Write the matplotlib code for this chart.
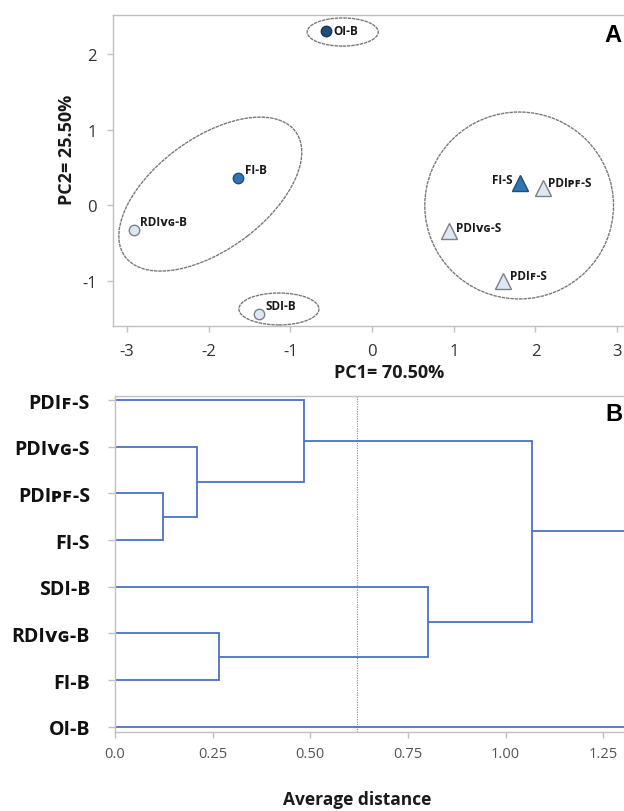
import matplotlib
matplotlib.use("Agg")
import matplotlib.pyplot as plt
from matplotlib.patches import Ellipse

# ---------------- data ----------------
pca_names = ["OI-B", "FI-B", "RDIᴠɢ-B", "SDI-B", "FI-S", "PDIᴘꜰ-S", "PDIᴠɢ-S", "PDIꜰ-S"]
pc1 = [-0.56, -1.64, -2.92, -1.38, 1.81, 2.09, 0.94, 1.60]
pc2 = [2.30, 0.36, -0.32, -1.43, 0.30, 0.23, -0.34, -0.99]
marker_kind = ["o", "o", "o", "o", "^", "^", "^", "^"]
fill_colors = ["#1f4e79", "#2e75b6", "#dce8f5", "#dce8f5", "#2e75b6", "#dce8f5", "#dce8f5", "#dce8f5"]
edge_colors = ["#1a3550", "#1f4e79", "#808080", "#808080", "#1f4e79", "#808080", "#808080", "#808080"]
# label offsets in points (dx, dy) and horizontal alignment
label_dx = [5, 5, 4.5, 4.5, -5, 4, 5, 5]
label_dy = [0, 6, 6, 6, 2, 4, 3, 4]
label_ha = ["left", "left", "left", "left", "right", "left", "left", "left"]

# group ellipses (centre x, centre y, width, height, angle) in data units
ell_cx = [-0.36, -1.98, -1.14, 1.80]
ell_cy = [2.283, 0.15, -1.362, 0.0]
ell_w = [0.87, 2.66, 0.98, 2.31]
ell_h = [0.37, 1.43, 0.42, 2.46]
ell_ang = [0, 39.8, 0, 0]

pca_xticks = [-3, -2, -1, 0, 1, 2, 3]
pca_yticks = [-1, 0, 1, 2]

# dendrogram
leaves = ["PDIꜰ-S", "PDIᴠɢ-S", "PDIᴘꜰ-S", "FI-S", "SDI-B", "RDIᴠɢ-B", "FI-B", "OI-B"]
# merges: (child a, child b, height); children < 8 are leaves, >= 8 earlier merges
merge_a = [3, 1, 0, 5, 4, 10, 13]
merge_b = [2, 8, 9, 6, 11, 12, 7]
merge_h = [0.122, 0.210, 0.484, 0.266, 0.800, 1.067, 1.50]
cut_distance = 0.619
dist_ticks = [0.0, 0.25, 0.50, 0.75, 1.00, 1.25]
dist_ticklabels = ["0.0", "0.25", "0.50", "0.75", "1.00", "1.25"]

# ---------------- figure ----------------
W, H = 624, 812
fig = plt.figure(figsize=(W / 100, H / 100), dpi=100)
fig.patch.set_facecolor("white")
FONT = ["Open Sans", "DejaVu Sans"]
plt.rcParams["font.family"] = FONT

spine_col = "#c0c0c0"

def fx(px):
    return px / W

def fy(py):
    return 1 - py / H

# ---- panel A ----
axA = fig.add_axes([fx(113), fy(327), fx(640 - 113), (327 - 16) / H])
axA.set_xlim(-3.171, 3.279)
axA.set_ylim(-1.586, 2.507)
for s in ["top", "left", "bottom", "right"]:
    axA.spines[s].set_color(spine_col)
    axA.spines[s].set_linewidth(1.0)
axA.set_xticks(pca_xticks)
axA.set_xticklabels([str(t) for t in pca_xticks])
axA.set_yticks(pca_yticks)
axA.set_yticklabels([str(t) for t in pca_yticks])
axA.tick_params(axis="both", colors=spine_col, labelcolor="#333333", labelsize=12, length=4.5, width=1)
axA.tick_params(axis="x", pad=8)
axA.tick_params(axis="y", pad=7)

for cx, cy, w, h, a in zip(ell_cx, ell_cy, ell_w, ell_h, ell_ang):
    axA.add_patch(Ellipse((cx, cy), w, h, angle=a, fill=False, edgecolor="#7a7a7a",
                          linewidth=1.0, linestyle=(0, (2.5, 0.6)), zorder=1))

for i, name in enumerate(pca_names):
    ms = 7.5 if marker_kind[i] == "o" else 11
    axA.plot(pc1[i], pc2[i], marker=marker_kind[i], markersize=ms,
             markerfacecolor=fill_colors[i], markeredgecolor=edge_colors[i],
             markeredgewidth=1.0, linestyle="none", zorder=3)
    axA.annotate(name, (pc1[i], pc2[i]), xytext=(label_dx[i], label_dy[i]),
                 textcoords="offset points", ha=label_ha[i], va="center",
                 fontsize=8.5, fontweight="bold", color="#1a1a1a", family=FONT, zorder=4)

fig.text(fx(613), fy(36), "A", ha="center", va="center", fontsize=17,
         fontweight="bold", family=["Liberation Sans", "DejaVu Sans"])
fig.text(fx(389), fy(373), "PC1= 70.50%", ha="center", va="center",
         fontsize=13, fontweight="bold", color="#1a1a1a")
fig.text(fx(67), fy(150), "PC2= 25.50%", ha="center", va="center", rotation=90,
         fontsize=13, fontweight="bold", color="#1a1a1a")

# ---- panel B ----
axB = fig.add_axes([fx(115), fy(733), fx(640 - 115), (733 - 397) / H])
axB.set_xlim(0, 1.344)
axB.set_ylim(7.11, -0.086)
for s in ["top", "left", "bottom", "right"]:
    axB.spines[s].set_color(spine_col)
    axB.spines[s].set_linewidth(1.0)
axB.set_yticks(range(len(leaves)))
axB.set_yticklabels(leaves)
axB.set_xticks(dist_ticks)
axB.set_xticklabels(dist_ticklabels)
axB.tick_params(axis="y", colors=spine_col, labelcolor="#111111", labelsize=14, length=5, width=1, pad=13)
axB.tick_params(axis="x", colors=spine_col, labelcolor="#555555", labelsize=10.5, length=4, width=1, pad=6)
for lab in axB.get_yticklabels():
    lab.set_fontweight("bold")

line_col = "#4a72c4"
pos = {i: float(i) for i in range(len(leaves))}
hgt = {i: 0.0 for i in range(len(leaves))}
for k, (a, b, h) in enumerate(zip(merge_a, merge_b, merge_h)):
    node = len(leaves) + k
    ya, yb = pos[a], pos[b]
    axB.plot([hgt[a], h], [ya, ya], color=line_col, lw=1.3, solid_capstyle="butt")
    axB.plot([hgt[b], h], [yb, yb], color=line_col, lw=1.3, solid_capstyle="butt")
    axB.plot([h, h], [ya, yb], color=line_col, lw=1.3)
    pos[node] = (ya + yb) / 2
    hgt[node] = h

axB.axvline(cut_distance, color="#8a8a8a", lw=0.8, linestyle=(0, (1, 1.2)), zorder=0)

fig.text(fx(614), fy(415), "B", ha="center", va="center", fontsize=17,
         fontweight="bold", family=["Liberation Sans", "DejaVu Sans"])
fig.text(fx(357), fy(800), "Average distance", ha="center", va="center",
         fontsize=12.5, fontweight="bold", color="#1a1a1a")

fig.savefig("out.png", dpi=100)
